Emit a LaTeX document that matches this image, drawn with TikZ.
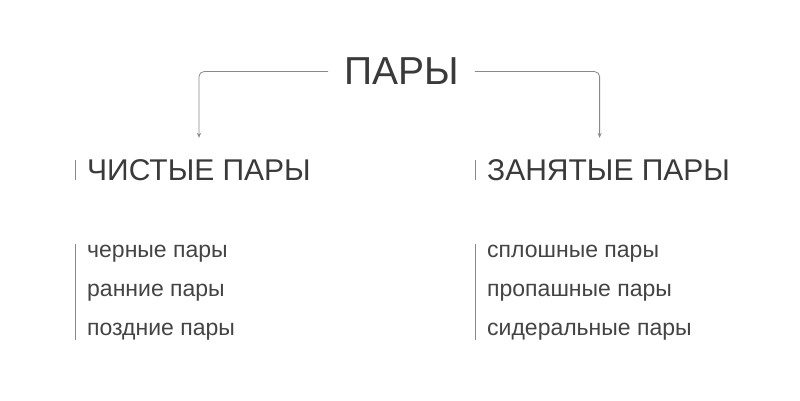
\documentclass[tikz,border=0pt]{standalone}
\usepackage{fontspec}
\setmainfont{Liberation Sans}
\usepackage{xcolor}
\usetikzlibrary{arrows.meta}

\definecolor{txtgray}{HTML}{444444}
\definecolor{headgray}{HTML}{3A3A3A}
\definecolor{linegray}{HTML}{8A8A8A}

\begin{document}
\begin{tikzpicture}[x=1pt,y=-1pt,
        txt/.style={inner sep=0pt, text=txtgray, anchor=base west},
        head/.style={txt, text=headgray},
        bar/.style={draw=linegray, line width=1pt},
        arr/.style={draw=linegray, line width=0.8pt, rounded corners=5pt, -{Stealth[length=5pt,width=4pt]}}]
        \useasboundingbox[fill=white] (0,0) rectangle (800,401);

        \node[head, anchor=base, font=\fontsize{39}{39}\selectfont] (title) at (401.5,85) {ПАРЫ};

        \node[head, font=\fontsize{30}{30}\selectfont] (clean) at (87,180) {ЧИСТЫЕ ПАРЫ};
        \node[head, font=\fontsize{30}{30}\selectfont] (busy) at (487,180) {ЗАНЯТЫЕ ПАРЫ};

        \node[txt, font=\fontsize{23}{23}\selectfont] (c1) at (87,257) {черные пары};
        \node[txt, font=\fontsize{23}{23}\selectfont] (c2) at (87,296) {ранние пары};
        \node[txt, font=\fontsize{23}{23}\selectfont] (c3) at (87,335) {поздние пары};
        \node[txt, font=\fontsize{23}{23}\selectfont] (b1) at (487,257) {сплошные пары};
        \node[txt, font=\fontsize{23}{23}\selectfont] (b2) at (487,296) {пропашные пары};
        \node[txt, font=\fontsize{23}{23}\selectfont] (b3) at (487,335) {сидеральные пары};

        \draw[arr] ([xshift=-16pt]title.west) -| ([yshift=21pt]clean.north);
        \draw[arr] ([xshift=16pt]title.east) -| ([xshift=-9pt,yshift=21pt]busy.north);

        \draw[bar] ([xshift=-12pt,yshift=-1pt]clean.north west) -- ([xshift=-12pt]clean.south west);
        \draw[bar] ([xshift=-12pt,yshift=-1pt]busy.north west) -- ([xshift=-12pt]busy.south west);
        \draw[bar] ([xshift=-12pt]c1.north west) -- ([xshift=-12pt]c3.south west);
        \draw[bar] ([xshift=-12pt]b1.north west) -- ([xshift=-12pt]b3.south west);
    \end{tikzpicture}
\end{document}
